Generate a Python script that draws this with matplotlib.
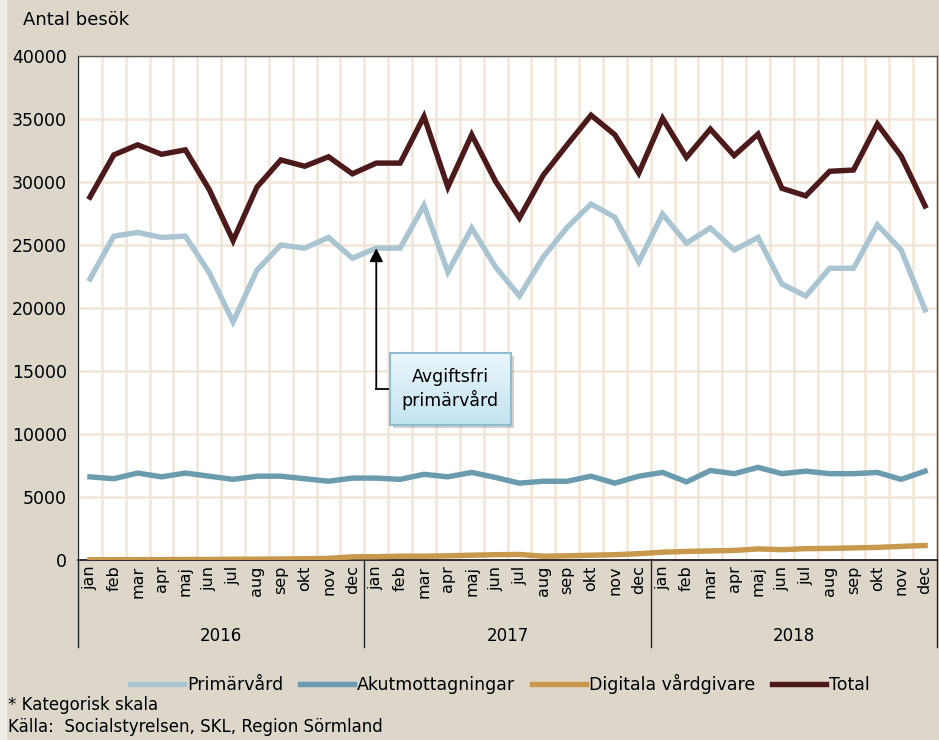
"""
Antal besök per månad 2016-2018: primärvård, akutmottagningar,
digitala vårdgivare och total.
"""

import matplotlib.pyplot as plt
import numpy as np
from matplotlib.patches import Rectangle

# Categories
years = ["2016", "2017", "2018"]
months = ["jan", "feb", "mar", "apr", "maj", "jun",
          "jul", "aug", "sep", "okt", "nov", "dec"]

# Series values
primarvard = [22300, 25700, 26000, 25600, 25700, 22800, 18900, 23000, 25000, 24750, 25600, 23950,
              24750, 24750, 28150, 22850, 26350, 23250, 20950, 24050, 26400, 28250, 27200, 23650,
              27450, 25150, 26350, 24600, 25600, 21900, 20950, 23150, 23150, 26600, 24600, 19850]
akut = [6600, 6450, 6900, 6600, 6900, 6650, 6400, 6650, 6650, 6450, 6250, 6500,
        6500, 6400, 6800, 6600, 6950, 6550, 6100, 6250, 6250, 6650, 6100, 6650,
        6950, 6200, 7100, 6850, 7350, 6850, 7050, 6850, 6850, 6950, 6400, 7050]
digitala = [20, 20, 30, 30, 40, 40, 60, 60, 80, 100, 130, 250,
            260, 300, 300, 330, 380, 420, 440, 300, 330, 380, 420, 500,
            620, 680, 720, 760, 880, 820, 900, 920, 960, 1000, 1080, 1150]
total = [28800, 32150, 32950, 32200, 32550, 29400, 25350, 29600, 31750, 31250, 32000, 30650,
         31500, 31500, 35200, 29600, 33750, 30050, 27150, 30550, 32950, 35300, 33750, 30700,
         35050, 31950, 34200, 32100, 33800, 29500, 28900, 30850, 30950, 34600, 32050, 28100]

series = [("Primärvård", primarvard, "#a9c5d1"),
          ("Akutmottagningar", akut, "#6b9bae"),
          ("Digitala vårdgivare", digitala, "#c8984c"),
          ("Total", total, "#4d1a1c")]

bg = "#ddd6ca"
grid = "#f1e6d7"


def main():
    plt.rcParams["font.family"] = ["DejaVu Sans"]

    fig = plt.figure(figsize=(9.39, 7.40), dpi=100, facecolor=bg)
    ax = fig.add_axes([78 / 939, 1 - 560 / 740, 859 / 939, 504 / 740])
    ax.set_facecolor("white")

    # light strip at the left edge of the picture
    fig.patches.append(Rectangle((0, 0), 6 / 939, 1, transform=fig.transFigure,
                                 color="#f0ede7", zorder=0))

    n = len(years) * len(months)
    x = np.arange(n)

    for name, vals, col in series:
        ax.plot(x, vals, color=col, lw=3.9, label=name, solid_joinstyle="miter",
                zorder=3)

    ax.set_xlim(-0.5, n - 0.5)
    ax.set_ylim(0, 40000)
    ax.set_yticks(np.arange(0, 40001, 5000))
    ax.tick_params(axis="y", length=0, labelsize=12.5, pad=8)

    # month labels, grid lines between categories
    ax.set_xticks(x)
    ax.set_xticklabels(months * len(years), rotation=90, fontsize=11.5)
    ax.set_xticks(np.arange(-0.5, n, 1), minor=True)
    ax.tick_params(axis="x", which="both", length=0, pad=4)
    ax.grid(True, which="minor", axis="x", color=grid, lw=1.8, zorder=0)
    ax.grid(True, which="major", axis="y", color=grid, lw=1.8, zorder=0)
    ax.set_axisbelow(True)

    for side in ["top", "right"]:
        ax.spines[side].set_color("#555555")
        ax.spines[side].set_linewidth(1.0)
    ax.spines["left"].set_color("#222222")
    ax.spines["bottom"].set_color("#111111")
    ax.spines["bottom"].set_linewidth(1.2)

    # year groups below the month labels
    trans = ax.get_xaxis_transform()
    for i, yr in enumerate(years):
        x0 = i * 12 - 0.5
        ax.plot([x0, x0], [0, -0.173], color="#222222", lw=1,
                transform=trans, clip_on=False)
        ax.text(x0 + 6, -0.151, yr, transform=trans, ha="center",
                va="center", fontsize=12)
    ax.plot([n - 0.5, n - 0.5], [0, -0.173], color="#222222", lw=1,
            transform=trans, clip_on=False)

    # annotation: Avgiftsfri primärvård
    jan17 = 12
    elbow_y = 13570
    box = [12.57, 17.64, 10700, 16430]
    ax.add_patch(Rectangle((box[0] + 0.12, box[2] - 250), box[1] - box[0],
                           box[3] - box[2], color="#9a9590", alpha=0.45,
                           zorder=5, lw=0))
    grad = np.linspace(0, 1, 50).reshape(-1, 1)
    ax.imshow(grad, extent=box, aspect="auto", origin="upper",
              cmap=plt.matplotlib.colors.LinearSegmentedColormap.from_list(
                  "boxgrad", ["#eaf6fb", "#c4e4f1"]), zorder=6)
    ax.add_patch(Rectangle((box[0], box[2]), box[1] - box[0], box[3] - box[2],
                           fill=False, ec="#8dbdd0", lw=1.5, zorder=7))
    ax.text((box[0] + box[1]) / 2, elbow_y, "Avgiftsfri\nprimärvård",
            ha="center", va="center", fontsize=12.5, zorder=8,
            linespacing=1.25)
    ax.plot([jan17, box[0]], [elbow_y, elbow_y], color="black", lw=1.3,
            zorder=4)
    ax.annotate("", xy=(jan17, primarvard[12]), xytext=(jan17, elbow_y),
                arrowprops=dict(arrowstyle="-|>", color="black", lw=1.3,
                                mutation_scale=20, shrinkA=0, shrinkB=0),
                zorder=4)
    ax.set_xlim(-0.5, n - 0.5)
    ax.set_ylim(0, 40000)

    # titles and notes
    fig.text(23 / 939, 1 - 20 / 740, "Antal besök", fontsize=13,
             ha="left", va="center")
    fig.legend(loc="center", bbox_to_anchor=(500 / 939, 1 - 684 / 740),
               ncol=4, frameon=False, fontsize=12.5, handlelength=3.1,
               handletextpad=0.15, columnspacing=1.0)
    fig.text(8 / 939, 1 - 705 / 740, "* Kategorisk skala", fontsize=12,
             ha="left", va="center")
    fig.text(8 / 939, 1 - 727 / 740, "Källa:  Socialstyrelsen, SKL, Region Sörmland",
             fontsize=12, ha="left", va="center")

    fig.savefig("out.png", dpi=100, facecolor=bg)


if __name__ == "__main__":
    main()
